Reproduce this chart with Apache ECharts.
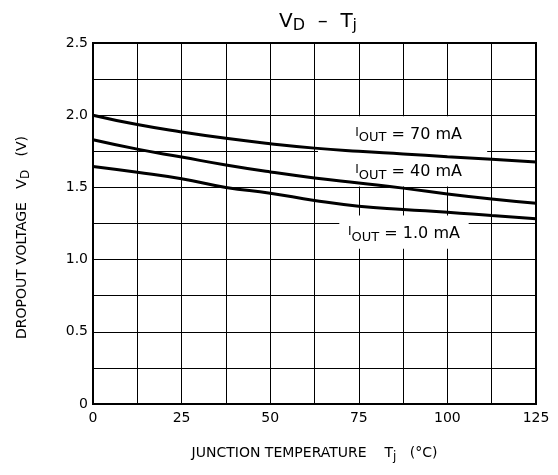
<!DOCTYPE html>
<html>
<head>
<meta charset="utf-8">
<script src="https://cdn.jsdelivr.net/npm/echarts@6/dist/echarts.min.js"></script>
<style>
  html, body { margin: 0; padding: 0; background: #fff; }
  #chart { width: 558px; height: 475px; }
</style>
</head>
<body>
<div id="chart"></div>
<script>
// Junction temperature (°C)
var temps = [0, 12.5, 25, 37.5, 50, 62.5, 75, 87.5, 100, 112.5, 125];
// Dropout voltage (V) per output current
var vd70mA = [2.0, 1.935, 1.884, 1.84, 1.803, 1.772, 1.75, 1.732, 1.713, 1.695, 1.676];
var vd40mA = [1.83, 1.765, 1.71, 1.655, 1.607, 1.565, 1.53, 1.495, 1.455, 1.42, 1.39];
var vd1mA  = [1.645, 1.605, 1.56, 1.50, 1.46, 1.41, 1.37, 1.347, 1.328, 1.305, 1.283];
var seriesNames = ['70 mA', '40 mA', '1.0 mA'];
var xTicks = [0, 25, 50, 75, 100, 125];
var yTicks = [0, 0.5, 1.0, 1.5, 2.0, 2.5];

var FONT = 'DejaVu Sans';
function pairs(ys) { return temps.map(function (t, i) { return [t, ys[i]]; }); }

var subRich = {
  m: { fontSize: 14, fontFamily: FONT, color: '#000', lineHeight: 18 },
  s: { fontSize: 12, fontFamily: FONT, color: '#000', lineHeight: 18, padding: [7, 0, 0, 0] }
};
function ioutLabel(name) {
  return '{s0|I}{s|OUT}{m| = ' + name + '}';
}
var labelRich = {
  s0: { fontSize: 12, fontFamily: FONT, color: '#000', lineHeight: 20, padding: [0, 0, 4, 0] },
  m: { fontSize: 16, fontFamily: FONT, color: '#000', lineHeight: 20 },
  s: { fontSize: 13, fontFamily: FONT, color: '#000', lineHeight: 20, padding: [7, 0, 0, 0] }
};

var chart = echarts.init(document.getElementById('chart'), null, { renderer: 'canvas' });
var curveStyle = { color: '#000', width: 3 };

chart.setOption({
  backgroundColor: '#fff',
  animation: false,
  title: {
    text: '{m|V}{s|D}{m|  –  T}{s|j}',
    left: 313, top: 5,
    textAlign: 'center',
    textStyle: {
      rich: {
        m: { fontSize: 20, fontFamily: FONT, fontWeight: 'normal', color: '#000', lineHeight: 24 },
        s: { fontSize: 16, fontFamily: FONT, fontWeight: 'normal', color: '#000', lineHeight: 24, padding: [8, 0, 0, 0] }
      }
    }
  },
  grid: { left: 93, right: 22, top: 43, bottom: 71, show: true, borderColor: '#000', borderWidth: 2, backgroundColor: 'transparent' },
  xAxis: {
    type: 'value', min: 0, max: 125, interval: 12.5,
    name: '{m|JUNCTION TEMPERATURE    T}{s|j}{m|   (°C)}',
    nameLocation: 'middle', nameGap: 40,
    nameTextStyle: { rich: subRich },
    axisLine: { show: true, lineStyle: { color: '#000', width: 2 } },
    axisTick: { show: false },
    splitLine: { show: true, lineStyle: { color: '#000', width: 1 } },
    axisLabel: {
      fontSize: 14, fontFamily: FONT, color: '#000', margin: 7,
      formatter: function (v) { return xTicks.indexOf(v) >= 0 ? String(v) : ''; }
    }
  },
  yAxis: {
    type: 'value', min: 0, max: 2.5, interval: 0.25,
    name: '{m|DROPOUT VOLTAGE   V}{s|D}{m|   (V)}',
    nameLocation: 'middle', nameGap: 62, nameRotate: 90,
    nameTextStyle: { rich: subRich, padding: [0, 28, 0, 0] },
    axisLine: { show: true, lineStyle: { color: '#000', width: 2 } },
    axisTick: { show: false },
    splitLine: { show: true, lineStyle: { color: '#000', width: 1 } },
    axisLabel: {
      fontSize: 14, fontFamily: FONT, color: '#000', margin: 5,
      formatter: function (v) {
        var r = Math.round(v * 100) / 100;
        if (yTicks.indexOf(r) < 0) return '';
        return r === 0 ? '0' : r.toFixed(1);
      }
    }
  },
  series: [
    {
      type: 'line', name: 'boxes', data: [], z: 1, silent: true,
      markArea: {
        silent: true,
        itemStyle: { color: '#fff', borderWidth: 0 },
        data: [
          [{ xAxis: 63.5, yAxis: 1.74, label: { show: true, position: 'inside', formatter: ioutLabel(seriesNames[0]), rich: labelRich, offset: [6, 0] } },
           { xAxis: 111.2, yAxis: 1.993 }],
          [{ xAxis: 63.5, yAxis: 1.507, label: { show: true, position: 'inside', formatter: ioutLabel(seriesNames[1]), rich: labelRich, offset: [6, 4] } },
           { xAxis: 111.2, yAxis: 1.76 }],
          [{ xAxis: 69.5, yAxis: 1.076, label: { show: true, position: 'inside', formatter: ioutLabel(seriesNames[2]), rich: labelRich, offset: [0, 2] } },
           { xAxis: 106, yAxis: 1.306 }]
        ]
      }
    },
    { type: 'line', name: seriesNames[0], data: pairs(vd70mA), smooth: true, showSymbol: false, z: 3, lineStyle: curveStyle },
    { type: 'line', name: seriesNames[1], data: pairs(vd40mA), smooth: true, showSymbol: false, z: 3, lineStyle: curveStyle },
    { type: 'line', name: seriesNames[2], data: pairs(vd1mA), smooth: true, showSymbol: false, z: 3, lineStyle: curveStyle }
  ]
});
</script>
</body>
</html>
